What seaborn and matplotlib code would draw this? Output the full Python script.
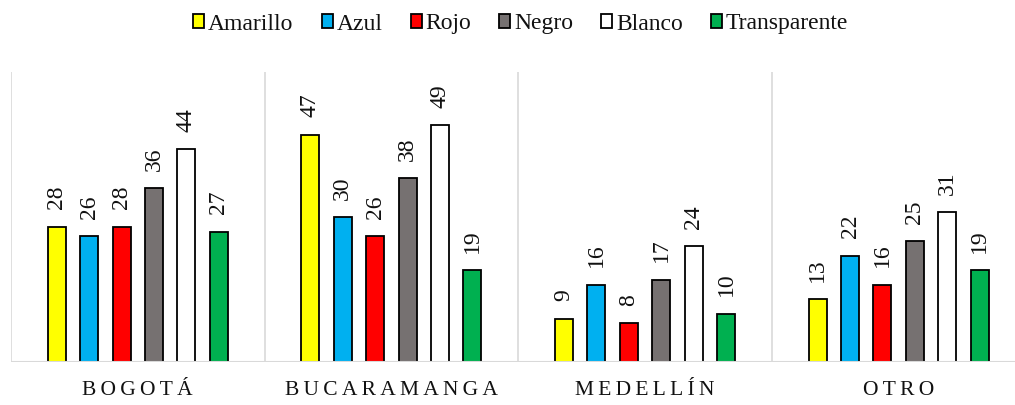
import matplotlib
matplotlib.use("Agg")
import matplotlib.pyplot as plt
import seaborn as sns
import pandas as pd

# Survey counts of preferred colour per city
ciudades = ["BOGOTÁ", "BUCARAMANGA", "MEDELLÍN", "OTRO"]
colores = ["Amarillo", "Azul", "Rojo", "Negro", "Blanco", "Transparente"]
amarillo = [28, 47, 9, 13]
azul = [26, 30, 16, 22]
rojo = [28, 26, 8, 16]
negro = [36, 38, 17, 25]
blanco = [44, 49, 24, 31]
transparente = [27, 19, 10, 19]

series = [amarillo, azul, rojo, negro, blanco, transparente]
paleta = ["#FFFF00", "#00B0F0", "#FF0000", "#767171", "#FFFFFF", "#00B050"]

df = pd.DataFrame(
    [(c, col, vals[i]) for col, vals in zip(colores, series) for i, c in enumerate(ciudades)],
    columns=["ciudad", "color", "valor"],
)

sns.set_theme(style="white")
plt.rcParams["font.family"] = ["Liberation Serif", "DejaVu Serif"]

fig = plt.figure(figsize=(10.15, 4.05), dpi=100)
ax = fig.add_axes([11 / 1015, 43 / 405, 1014.5 / 1015, 290 / 405])

sns.barplot(
    data=df, x="ciudad", y="valor", hue="color", order=ciudades, hue_order=colores,
    palette=paleta, width=0.767, gap=0.445, edgecolor="black", linewidth=1.3,
    saturation=1, ax=ax, zorder=2,
)

for cont in ax.containers:
    ax.bar_label(cont, rotation=90, padding=12.5, fontsize=17, color="#111111")

ax.set_ylim(0, 60)
ax.set_xlim(-0.5, 3.5)
for x in [-0.5, 0.5, 1.5, 2.5, 3.5]:
    ax.axvline(x, color="#D9D9D9", lw=1.2, zorder=1)
ax.axhline(0, color="#D9D9D9", lw=1.5, zorder=3)

for s in ax.spines.values():
    s.set_visible(False)
ax.set_yticks([])
ax.set_xlabel("")
ax.set_ylabel("")
ax.set_xticks(range(len(ciudades)))
ax.set_xticklabels(["\u2009".join(c) for c in ciudades], fontsize=15.5, color="#111111")
ax.tick_params(axis="x", length=0, pad=14)

handles, labels = ax.get_legend_handles_labels()
ax.legend_.remove()
fig.legend(
    handles, labels, loc="center", bbox_to_anchor=(0.513, 1 - 24 / 405), ncol=6,
    frameon=False, fontsize=17, handlelength=0.47, handleheight=0.55,
    handletextpad=0.15, columnspacing=1.2, borderaxespad=0,
    labelcolor="#111111",
)

fig.savefig("out.png", dpi=100)
